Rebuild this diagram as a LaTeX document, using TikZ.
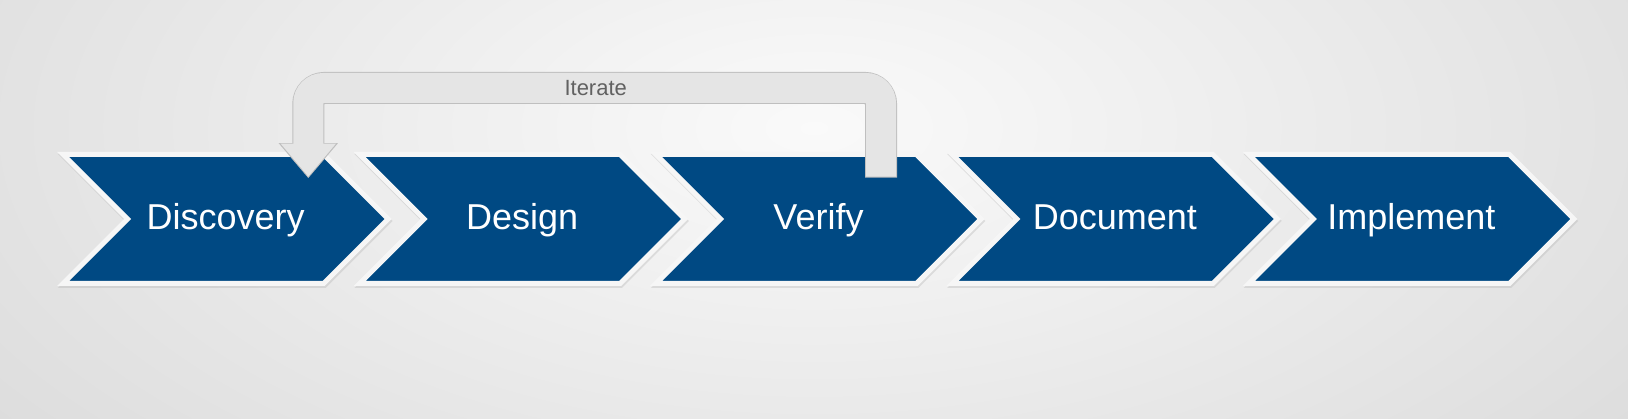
\documentclass[tikz,border=0pt]{standalone}
\usepackage{fontspec}
\setmainfont{Liberation Sans}
\usetikzlibrary{positioning,shapes.symbols,arrows.meta,shadows,calc}

\definecolor{stageblue}{RGB}{0,73,131}
\definecolor{stagerim}{RGB}{246,246,246}

\begin{document}
\begin{tikzpicture}[x=1pt,y=1pt,
	stage/.style={signal, signal to=east, signal from=west, signal pointer angle=90,
		minimum width=325pt, minimum height=129pt, inner sep=0pt, outer sep=0pt,
		fill=stageblue, draw=stagerim, line width=5pt, line join=miter,
		drop shadow={shadow xshift=0.8pt, shadow yshift=-2pt, fill=black!30, draw=black!30, line width=5pt, opacity=0.35},
		text=white, font=\fontsize{36}{40}\selectfont, text height=21pt, text depth=0pt},
	iterline/.style={line width=30pt, draw=black!10, rounded corners=15pt, -{Triangle[width=53pt,length=33pt]}},
	iterrim/.style={line width=32pt, draw=black!25, rounded corners=16pt, -{Triangle[width=57pt,length=35pt]}, shorten <=-1pt, shorten >=-1.5pt},
	iterlabel/.style={text=black!62, font=\fontsize{22}{24}\selectfont},
	]
	\useasboundingbox (0,0) rectangle (1628,418);
	%Background
	\begin{scope}
		\clip (0,0) rectangle (1628,418);
		\shade[inner color=black!2, outer color=black!20] (814,290) ellipse (1600 and 800);
	\end{scope}
	
	%Stages
	\node[stage] (c1) at (225.7,199) {Discovery};
	\node[stage] (c2) at (522.1,199) {Design};
	\node[stage] (c3) at (818.5,199) {Verify};
	\node[stage] (c4) at (1114.9,199) {Document};
	\node[stage] (c5) at (1411.3,199) {Implement};
	
	%Iterate loop
	\coordinate (vs) at ($(c3.north)+(62.5,-22.2)$);
	\coordinate (ds) at ($(c1.north)+(82.6,-22.2)$);
	\coordinate (itop) at (595.7,330);
	\draw[iterrim] (vs) |- (itop) -| (ds);
	\draw[iterline] (vs) |- (itop) -| (ds);
	\node[iterlabel] (it) at (itop) {Iterate};
\end{tikzpicture}
\end{document}
